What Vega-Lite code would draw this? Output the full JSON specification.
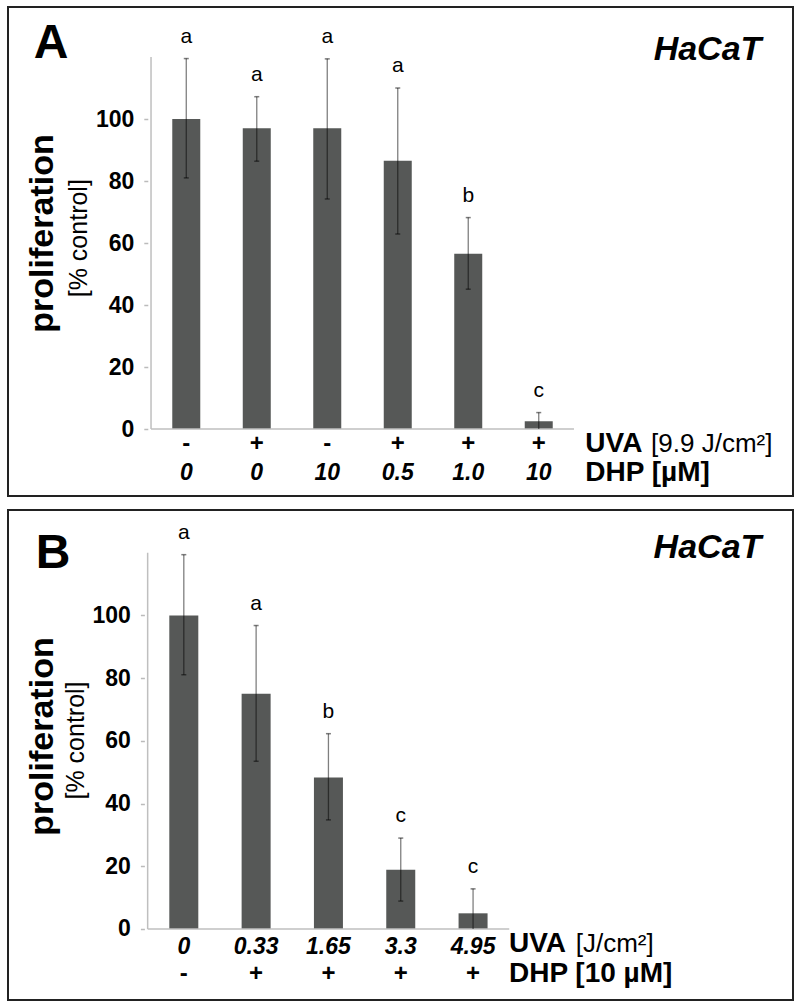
{
  "$schema": "https://vega.github.io/schema/vega-lite/v6.json",
  "padding": {"left": 7, "top": 6, "right": 0, "bottom": 0},
  "spacing": 12,
  "config": {
    "font": "Liberation Sans",
    "view": {"stroke": "#222222", "strokeWidth": 2},
    "axis": {"grid": false}
  },
  "datasets": {
    "A": [
      {"i": 1, "uva": "-", "dhp": "0", "mean": 100, "lo": 81, "hi": 119.5, "letter": "a"},
      {"i": 2, "uva": "+", "dhp": "0", "mean": 97, "lo": 86.4, "hi": 107.2, "letter": "a"},
      {"i": 3, "uva": "-", "dhp": "10", "mean": 97, "lo": 74.2, "hi": 119.4, "letter": "a"},
      {"i": 4, "uva": "+", "dhp": "0.5", "mean": 86.5, "lo": 62.9, "hi": 110, "letter": "a"},
      {"i": 5, "uva": "+", "dhp": "1.0", "mean": 56.5, "lo": 45.1, "hi": 68.2, "letter": "b"},
      {"i": 6, "uva": "+", "dhp": "10", "mean": 2.5, "lo": 0, "hi": 5.3, "letter": "c"}
    ],
    "B": [
      {"i": 1, "uva": "0", "dhp": "-", "mean": 100, "lo": 81.1, "hi": 119.4, "letter": "a"},
      {"i": 2, "uva": "0.33", "dhp": "+", "mean": 75, "lo": 53.5, "hi": 96.8, "letter": "a"},
      {"i": 3, "uva": "1.65", "dhp": "+", "mean": 48.3, "lo": 34.8, "hi": 62.3, "letter": "b"},
      {"i": 4, "uva": "3.3", "dhp": "+", "mean": 18.9, "lo": 8.9, "hi": 29, "letter": "c"},
      {"i": 5, "uva": "4.95", "dhp": "+", "mean": 5, "lo": 0, "hi": 12.8, "letter": "c"}
    ]
  },
  "vconcat": [
    {
      "width": 785,
      "height": 489,
      "resolve": {"axis": {"y": "independent"}},
      "layer": [
        {
          "data": {"name": "A"},
          "mark": {"type": "bar", "size": 28, "color": "#565857"},
          "encoding": {
            "x": {"field": "i", "type": "quantitative", "scale": {"domain": [-1.458, 9.536], "nice": false, "zero": false}, "axis": null},
            "y": {"field": "mean", "type": "quantitative", "scale": {"domain": [-21.61, 136.13], "nice": false, "zero": false},
              "axis": {"orient": "left", "offset": -139.8, "values": [0, 20, 40, 60, 80, 100], "domain": false, "ticks": true, "tickSize": 4, "tickColor": "#bbbbbb", "tickWidth": 1.5, "labelFontSize": 23, "labelFontWeight": "bold", "labelColor": "#000000", "labelPadding": 10, "title": "[% control]", "titleFontSize": 25, "titleFontWeight": "normal", "titleColor": "#000000", "titlePadding": 4, "titleY": 230.7}},
            "y2": {"datum": 0}
          }
        },
        {
          "data": {"values": [{}]},
          "mark": {"type": "rule", "color": "#bfbfbf", "strokeWidth": 1.5},
          "encoding": {
            "x": {"datum": 0.5, "type": "quantitative", "scale": {"domain": [-1.458, 9.536], "nice": false, "zero": false}, "axis": null},
            "y": {"datum": 0, "type": "quantitative", "scale": {"domain": [-21.61, 136.13], "nice": false, "zero": false},
              "axis": {"orient": "left", "offset": -139.8, "labels": false, "ticks": false, "domain": false, "title": "proliferation", "titleFontSize": 34, "titleFontWeight": "bold", "titleColor": "#000000", "titlePadding": 88, "titleY": 226}},
            "y2": {"datum": 120}
          }
        },
        {
          "data": {"values": [{}]},
          "mark": {"type": "rule", "color": "#bfbfbf", "strokeWidth": 1.5},
          "encoding": {
            "x": {"datum": 0.5, "type": "quantitative", "scale": {"domain": [-1.458, 9.536], "nice": false, "zero": false}, "axis": null},
            "x2": {"datum": 6.5},
            "y": {"datum": 0, "type": "quantitative", "scale": {"domain": [-21.61, 136.13], "nice": false, "zero": false}, "axis": null}
          }
        },
        {
          "data": {"name": "A"},
          "mark": {"type": "rule", "color": "#000000", "opacity": 0.5, "strokeWidth": 1.3},
          "encoding": {
            "x": {"field": "i", "type": "quantitative", "scale": {"domain": [-1.458, 9.536], "nice": false, "zero": false}, "axis": null},
            "y": {"field": "lo", "type": "quantitative", "scale": {"domain": [-21.61, 136.13], "nice": false, "zero": false}, "axis": null},
            "y2": {"field": "hi"}
          }
        },
        {
          "data": {"name": "A"},
          "mark": {"type": "tick", "orient": "horizontal", "size": 5, "thickness": 1.5, "color": "#000000", "opacity": 0.5},
          "encoding": {
            "x": {"field": "i", "type": "quantitative", "scale": {"domain": [-1.458, 9.536], "nice": false, "zero": false}, "axis": null},
            "y": {"field": "hi", "type": "quantitative", "scale": {"domain": [-21.61, 136.13], "nice": false, "zero": false}, "axis": null}
          }
        },
        {
          "data": {"name": "A"},
          "transform": [{"filter": "datum.lo > 0"}],
          "mark": {"type": "tick", "orient": "horizontal", "size": 5, "thickness": 1.5, "color": "#000000", "opacity": 0.5},
          "encoding": {
            "x": {"field": "i", "type": "quantitative", "scale": {"domain": [-1.458, 9.536], "nice": false, "zero": false}, "axis": null},
            "y": {"field": "lo", "type": "quantitative", "scale": {"domain": [-21.61, 136.13], "nice": false, "zero": false}, "axis": null}
          }
        },
        {
          "data": {"name": "A"},
          "mark": {"type": "text", "fontSize": 21, "color": "#000000", "baseline": "middle", "dy": -22},
          "encoding": {
            "x": {"field": "i", "type": "quantitative", "scale": {"domain": [-1.458, 9.536], "nice": false, "zero": false}, "axis": null},
            "y": {"field": "hi", "type": "quantitative", "scale": {"domain": [-21.61, 136.13], "nice": false, "zero": false}, "axis": null},
            "text": {"field": "letter"}
          }
        },
        {
          "data": {"name": "A"},
          "mark": {"type": "text", "fontSize": 24, "fontWeight": "bold", "color": "#000000", "baseline": "middle"},
          "encoding": {
            "x": {"field": "i", "type": "quantitative", "scale": {"domain": [-1.458, 9.536], "nice": false, "zero": false}, "axis": null},
            "y": {"datum": -4.74, "type": "quantitative", "scale": {"domain": [-21.61, 136.13], "nice": false, "zero": false}, "axis": null},
            "text": {"field": "uva"}
          }
        },
        {
          "data": {"name": "A"},
          "mark": {"type": "text", "fontSize": 23, "fontWeight": "bold", "fontStyle": "italic", "color": "#000000", "baseline": "middle"},
          "encoding": {
            "x": {"field": "i", "type": "quantitative", "scale": {"domain": [-1.458, 9.536], "nice": false, "zero": false}, "axis": null},
            "y": {"datum": -14.2, "type": "quantitative", "scale": {"domain": [-21.61, 136.13], "nice": false, "zero": false}, "axis": null},
            "text": {"field": "dhp"}
          }
        },
        {
          "data": {"values": [{}]},
          "mark": {"type": "text", "text": "UVA", "fontSize": 28, "fontWeight": "bold", "color": "#000000", "align": "left", "baseline": "middle"},
          "encoding": {
            "x": {"datum": 6.661, "type": "quantitative", "scale": {"domain": [-1.458, 9.536], "nice": false, "zero": false}, "axis": null},
            "y": {"datum": -4.74, "type": "quantitative", "scale": {"domain": [-21.61, 136.13], "nice": false, "zero": false}, "axis": null}
          }
        },
        {
          "data": {"values": [{}]},
          "mark": {"type": "text", "text": "[9.9 J/cm²]", "fontSize": 26, "color": "#000000", "align": "left", "baseline": "middle"},
          "encoding": {
            "x": {"datum": 7.594, "type": "quantitative", "scale": {"domain": [-1.458, 9.536], "nice": false, "zero": false}, "axis": null},
            "y": {"datum": -4.74, "type": "quantitative", "scale": {"domain": [-21.61, 136.13], "nice": false, "zero": false}, "axis": null}
          }
        },
        {
          "data": {"values": [{}]},
          "mark": {"type": "text", "text": "DHP [µM]", "fontSize": 28, "fontWeight": "bold", "color": "#000000", "align": "left", "baseline": "middle"},
          "encoding": {
            "x": {"datum": 6.661, "type": "quantitative", "scale": {"domain": [-1.458, 9.536], "nice": false, "zero": false}, "axis": null},
            "y": {"datum": -14.2, "type": "quantitative", "scale": {"domain": [-21.61, 136.13], "nice": false, "zero": false}, "axis": null}
          }
        },
        {
          "data": {"values": [{}]},
          "mark": {"type": "text", "text": "A", "fontSize": 48, "fontWeight": "bold", "color": "#000000", "align": "left", "baseline": "alphabetic"},
          "encoding": {
            "x": {"datum": -1.164, "type": "quantitative", "scale": {"domain": [-1.458, 9.536], "nice": false, "zero": false}, "axis": null},
            "y": {"datum": 119.7, "type": "quantitative", "scale": {"domain": [-21.61, 136.13], "nice": false, "zero": false}, "axis": null}
          }
        },
        {
          "data": {"values": [{}]},
          "mark": {"type": "text", "text": "HaCaT", "fontSize": 34, "fontWeight": "bold", "fontStyle": "italic", "color": "#000000", "align": "right", "baseline": "alphabetic"},
          "encoding": {
            "x": {"datum": 9.158, "type": "quantitative", "scale": {"domain": [-1.458, 9.536], "nice": false, "zero": false}, "axis": null},
            "y": {"datum": 119.03, "type": "quantitative", "scale": {"domain": [-21.61, 136.13], "nice": false, "zero": false}, "axis": null}
          }
        }
      ]
    },
    {
      "width": 785,
      "height": 490,
      "resolve": {"axis": {"y": "independent"}},
      "layer": [
        {
          "data": {"name": "B"},
          "mark": {"type": "bar", "size": 29, "color": "#565857"},
          "encoding": {
            "x": {"field": "i", "type": "quantitative", "scale": {"domain": [-1.362, 9.355], "nice": false, "zero": false}, "axis": null},
            "y": {"field": "mean", "type": "quantitative", "scale": {"domain": [-22.65, 133.65], "nice": false, "zero": false},
              "axis": {"orient": "left", "offset": -136.4, "values": [0, 20, 40, 60, 80, 100], "domain": false, "ticks": true, "tickSize": 4, "tickColor": "#bbbbbb", "tickWidth": 1.5, "labelFontSize": 23, "labelFontWeight": "bold", "labelColor": "#000000", "labelPadding": 10, "title": "[% control]", "titleFontSize": 25, "titleFontWeight": "normal", "titleColor": "#000000", "titlePadding": 4, "titleY": 230}},
            "y2": {"datum": 0}
          }
        },
        {
          "data": {"values": [{}]},
          "mark": {"type": "rule", "color": "#bfbfbf", "strokeWidth": 1.5},
          "encoding": {
            "x": {"datum": 0.5, "type": "quantitative", "scale": {"domain": [-1.362, 9.355], "nice": false, "zero": false}, "axis": null},
            "y": {"datum": 0, "type": "quantitative", "scale": {"domain": [-22.65, 133.65], "nice": false, "zero": false},
              "axis": {"orient": "left", "offset": -136.4, "labels": false, "ticks": false, "domain": false, "title": "proliferation", "titleFontSize": 34, "titleFontWeight": "bold", "titleColor": "#000000", "titlePadding": 85, "titleY": 226}},
            "y2": {"datum": 120}
          }
        },
        {
          "data": {"values": [{}]},
          "mark": {"type": "rule", "color": "#bfbfbf", "strokeWidth": 1.5},
          "encoding": {
            "x": {"datum": 0.5, "type": "quantitative", "scale": {"domain": [-1.362, 9.355], "nice": false, "zero": false}, "axis": null},
            "x2": {"datum": 5.5},
            "y": {"datum": 0, "type": "quantitative", "scale": {"domain": [-22.65, 133.65], "nice": false, "zero": false}, "axis": null}
          }
        },
        {
          "data": {"name": "B"},
          "mark": {"type": "rule", "color": "#000000", "opacity": 0.5, "strokeWidth": 1.3},
          "encoding": {
            "x": {"field": "i", "type": "quantitative", "scale": {"domain": [-1.362, 9.355], "nice": false, "zero": false}, "axis": null},
            "y": {"field": "lo", "type": "quantitative", "scale": {"domain": [-22.65, 133.65], "nice": false, "zero": false}, "axis": null},
            "y2": {"field": "hi"}
          }
        },
        {
          "data": {"name": "B"},
          "mark": {"type": "tick", "orient": "horizontal", "size": 5, "thickness": 1.5, "color": "#000000", "opacity": 0.5},
          "encoding": {
            "x": {"field": "i", "type": "quantitative", "scale": {"domain": [-1.362, 9.355], "nice": false, "zero": false}, "axis": null},
            "y": {"field": "hi", "type": "quantitative", "scale": {"domain": [-22.65, 133.65], "nice": false, "zero": false}, "axis": null}
          }
        },
        {
          "data": {"name": "B"},
          "transform": [{"filter": "datum.lo > 0"}],
          "mark": {"type": "tick", "orient": "horizontal", "size": 5, "thickness": 1.5, "color": "#000000", "opacity": 0.5},
          "encoding": {
            "x": {"field": "i", "type": "quantitative", "scale": {"domain": [-1.362, 9.355], "nice": false, "zero": false}, "axis": null},
            "y": {"field": "lo", "type": "quantitative", "scale": {"domain": [-22.65, 133.65], "nice": false, "zero": false}, "axis": null}
          }
        },
        {
          "data": {"name": "B"},
          "mark": {"type": "text", "fontSize": 21, "color": "#000000", "baseline": "middle", "dy": -22},
          "encoding": {
            "x": {"field": "i", "type": "quantitative", "scale": {"domain": [-1.362, 9.355], "nice": false, "zero": false}, "axis": null},
            "y": {"field": "hi", "type": "quantitative", "scale": {"domain": [-22.65, 133.65], "nice": false, "zero": false}, "axis": null},
            "text": {"field": "letter"}
          }
        },
        {
          "data": {"name": "B"},
          "mark": {"type": "text", "fontSize": 23, "fontWeight": "bold", "fontStyle": "italic", "color": "#000000", "baseline": "middle"},
          "encoding": {
            "x": {"field": "i", "type": "quantitative", "scale": {"domain": [-1.362, 9.355], "nice": false, "zero": false}, "axis": null},
            "y": {"datum": -5.74, "type": "quantitative", "scale": {"domain": [-22.65, 133.65], "nice": false, "zero": false}, "axis": null},
            "text": {"field": "uva"}
          }
        },
        {
          "data": {"name": "B"},
          "mark": {"type": "text", "fontSize": 24, "fontWeight": "bold", "color": "#000000", "baseline": "middle"},
          "encoding": {
            "x": {"field": "i", "type": "quantitative", "scale": {"domain": [-1.362, 9.355], "nice": false, "zero": false}, "axis": null},
            "y": {"datum": -14.35, "type": "quantitative", "scale": {"domain": [-22.65, 133.65], "nice": false, "zero": false}, "axis": null},
            "text": {"field": "dhp"}
          }
        },
        {
          "data": {"values": [{}]},
          "mark": {"type": "text", "text": "UVA", "fontSize": 28, "fontWeight": "bold", "color": "#000000", "align": "left", "baseline": "middle"},
          "encoding": {
            "x": {"datum": 5.496, "type": "quantitative", "scale": {"domain": [-1.362, 9.355], "nice": false, "zero": false}, "axis": null},
            "y": {"datum": -4.8, "type": "quantitative", "scale": {"domain": [-22.65, 133.65], "nice": false, "zero": false}, "axis": null}
          }
        },
        {
          "data": {"values": [{}]},
          "mark": {"type": "text", "text": "[J/cm²]", "fontSize": 26, "color": "#000000", "align": "left", "baseline": "middle"},
          "encoding": {
            "x": {"datum": 6.42, "type": "quantitative", "scale": {"domain": [-1.362, 9.355], "nice": false, "zero": false}, "axis": null},
            "y": {"datum": -4.8, "type": "quantitative", "scale": {"domain": [-22.65, 133.65], "nice": false, "zero": false}, "axis": null}
          }
        },
        {
          "data": {"values": [{}]},
          "mark": {"type": "text", "text": "DHP [10 µM]", "fontSize": 28, "fontWeight": "bold", "color": "#000000", "align": "left", "baseline": "middle"},
          "encoding": {
            "x": {"datum": 5.496, "type": "quantitative", "scale": {"domain": [-1.362, 9.355], "nice": false, "zero": false}, "axis": null},
            "y": {"datum": -14.35, "type": "quantitative", "scale": {"domain": [-22.65, 133.65], "nice": false, "zero": false}, "axis": null}
          }
        },
        {
          "data": {"values": [{}]},
          "mark": {"type": "text", "text": "B", "fontSize": 48, "fontWeight": "bold", "color": "#000000", "align": "left", "baseline": "alphabetic"},
          "encoding": {
            "x": {"datum": -1.048, "type": "quantitative", "scale": {"domain": [-1.362, 9.355], "nice": false, "zero": false}, "axis": null},
            "y": {"datum": 115.15, "type": "quantitative", "scale": {"domain": [-22.65, 133.65], "nice": false, "zero": false}, "axis": null}
          }
        },
        {
          "data": {"values": [{}]},
          "mark": {"type": "text", "text": "HaCaT", "fontSize": 34, "fontWeight": "bold", "fontStyle": "italic", "color": "#000000", "align": "right", "baseline": "alphabetic"},
          "encoding": {
            "x": {"datum": 8.986, "type": "quantitative", "scale": {"domain": [-1.362, 9.355], "nice": false, "zero": false}, "axis": null},
            "y": {"datum": 118.3, "type": "quantitative", "scale": {"domain": [-22.65, 133.65], "nice": false, "zero": false}, "axis": null}
          }
        }
      ]
    }
  ]
}
